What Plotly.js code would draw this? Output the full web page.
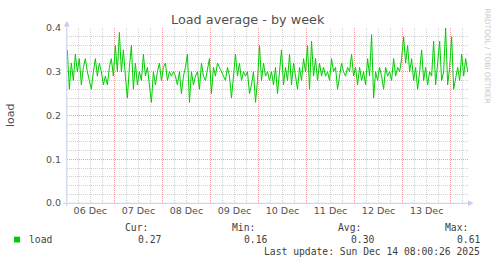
<!DOCTYPE html>
<html><head><meta charset="utf-8">
<script src="https://cdn.plot.ly/plotly-3.0.1.min.js"></script>
<style>html,body{margin:0;padding:0;background:#fff}#chart{width:497px;height:264px}</style>
</head><body><div id="chart"></div>
<script>
// ---- data ----
const chartTitle = 'Load average - by week';
const yAxisTitle = 'load';
const seriesName = 'load';
const watermark = 'RRDTOOL / TOBI OETIKER';
const seriesStartUTC = [2025, 11, 6, 0, 30]; // 2025-12-06 00:30, hourly samples
const loadValues = [
  0.35,0.26,0.32,0.28,0.34,0.30,0.33,0.27,0.31,0.33,
  0.30,0.28,0.26,0.30,0.33,0.29,0.32,0.30,0.27,0.29,
  0.27,0.31,0.33,0.29,0.36,0.30,0.39,0.30,0.35,0.29,
  0.24,0.31,0.36,0.26,0.32,0.27,0.30,0.28,0.34,0.29,
  0.31,0.27,0.23,0.30,0.27,0.30,0.32,0.28,0.31,0.32,
  0.28,0.30,0.29,0.30,0.29,0.27,0.30,0.25,0.29,0.31,
  0.34,0.23,0.30,0.27,0.29,0.30,0.26,0.32,0.29,0.28,
  0.31,0.33,0.25,0.31,0.29,0.32,0.31,0.30,0.29,0.28,
  0.31,0.29,0.24,0.30,0.34,0.29,0.32,0.28,0.30,0.29,
  0.30,0.25,0.27,0.30,0.23,0.28,0.36,0.28,0.32,0.29,
  0.30,0.28,0.30,0.27,0.31,0.25,0.30,0.35,0.27,0.31,
  0.28,0.34,0.27,0.32,0.29,0.26,0.31,0.28,0.33,0.30,
  0.36,0.26,0.37,0.29,0.33,0.28,0.32,0.29,0.31,0.29,
  0.30,0.28,0.33,0.30,0.31,0.26,0.29,0.32,0.30,0.29,
  0.31,0.30,0.34,0.29,0.31,0.27,0.31,0.28,0.30,0.27,
  0.33,0.29,0.385,0.24,0.30,0.28,0.31,0.29,0.26,0.31,
  0.29,0.30,0.28,0.33,0.29,0.31,0.30,0.33,0.38,0.32,
  0.36,0.30,0.33,0.28,0.31,0.26,0.30,0.35,0.28,0.31,
  0.27,0.30,0.29,0.37,0.27,0.32,0.37,0.28,0.30,0.40,
  0.27,0.31,0.38,0.26,0.29,0.31,0.28,0.34,0.29,0.33,
  0.30
];
const xRange = ['2025-12-06 00:20', '2025-12-14 08:40'];
const yTickValues = [0.0, 0.1, 0.2, 0.3, 0.4];
const yTickLabels = ['0.0', '0.1', '0.2', '0.3', '0.4'];
const legendHeaders = ['Cur:', 'Min:', 'Avg:', 'Max:'];
const legendValues = ['0.27', '0.16', '0.30', '0.61'];
const lastUpdate = 'Last update: Sun Dec 14 08:00:26 2025';

// ---- build ----
const t0 = Date.UTC.apply(null, seriesStartUTC);
const times = loadValues.map((_, i) =>
  new Date(t0 + i * 3600000).toISOString().slice(0, 19).replace('T', ' '));

const W = 497, H = 264, M = {l: 67, r: 29, t: 28, b: 61, pad: 0};
const PW = W - M.l - M.r, PH = H - M.t - M.b;
const px = x => (x - M.l) / PW;
const py = y => (H - M.b - y) / PH;

const mono = 'DejaVu Sans Mono, monospace';
const sans = 'DejaVu Sans, sans-serif';
const txt = '#404040';
const axisCol = '#c4ccf2';
const majorGrid = '#e8a0a0';
const minorGrid = '#d2d2d2';

const ann = [];
const addText = (text, x, y, xanchor, opts = {}) => ann.push(Object.assign({
  text, x: px(x), y: py(y), xref: 'paper', yref: 'paper', xanchor, yanchor: 'middle',
  showarrow: false, font: {family: mono, size: 9.7, color: txt}
}, opts));

const headerRight = [150, 256.7, 363.3, 470];
const valueRight = [162.7, 269.3, 375.7, 482.3];
legendHeaders.forEach((h, i) => addText(h, headerRight[i], 227.7, 'right'));
addText(seriesName, 26.7, 239.5, 'left');
legendValues.forEach((v, i) => addText(v, valueRight[i], 239.5, 'right'));
addText(lastUpdate, 482.3, 251, 'right');
addText(yAxisTitle, 10, 115, 'center', {textangle: -90, font: {family: sans, size: 11, color: '#505050'}});
addText(watermark, 487.5, 56, 'center', {textangle: 90, font: {family: sans, size: 7.4, color: '#c8c8c8'}});

const shapes = [
  // legend swatch
  {type: 'rect', xref: 'paper', yref: 'paper', x0: px(14), x1: px(20), y0: py(236.7), y1: py(242.5),
   fillcolor: '#00cc00', line: {width: 0}},
  // axis arrows
  {type: 'path', xref: 'paper', yref: 'paper', fillcolor: axisCol, line: {width: 0},
   path: `M ${px(63.8)} ${py(26.5)} L ${px(69.8)} ${py(26.5)} L ${px(66.8)} ${py(21)} Z`},
  {type: 'line', xref: 'paper', yref: 'paper', x0: px(66.8), x1: px(66.8), y0: py(206), y1: py(26.5),
   line: {color: axisCol, width: 1}},
  {type: 'line', xref: 'paper', yref: 'paper', x0: px(63), x1: px(468), y0: py(203.3), y1: py(203.3),
   line: {color: axisCol, width: 1}},
  {type: 'path', xref: 'paper', yref: 'paper', fillcolor: axisCol, line: {width: 0},
   path: `M ${px(468)} ${py(200.3)} L ${px(468)} ${py(206.3)} L ${px(473.5)} ${py(203.3)} Z`}
];

const data = [{
  type: 'scatter', mode: 'lines', name: seriesName, x: times, y: loadValues,
  line: {color: '#00cc00', width: 1}, hoverinfo: 'x+y'
}];

const layout = {
  width: W, height: H, margin: M, paper_bgcolor: '#ffffff', plot_bgcolor: '#ffffff',
  showlegend: false,
  title: {text: chartTitle, font: {family: sans, size: 12.8, color: '#505050'},
          x: 247.7 / W, xanchor: 'center', y: 1 - 20 / H, yanchor: 'middle', yref: 'container', xref: 'container'},
  xaxis: {
    type: 'date', range: xRange, tick0: '2025-12-06', dtick: 86400000, tickformat: '%d %b',
    ticklabelmode: 'period', showgrid: true, gridcolor: majorGrid, griddash: '1px,1px', gridwidth: 1,
    minor: {dtick: 21600000, tick0: '2025-12-06', showgrid: true, gridcolor: minorGrid, griddash: '1px,1px', gridwidth: 1},
    showline: false, zeroline: false, ticks: '', tickfont: {family: sans, size: 9.5, color: '#505050'},
    fixedrange: true
  },
  yaxis: {
    range: [0, 0.4], tickvals: yTickValues, ticktext: yTickLabels,
    showgrid: true, gridcolor: majorGrid, griddash: '1px,1px', gridwidth: 1,
    minor: {dtick: 0.02, showgrid: true, gridcolor: minorGrid, griddash: '1px,1px', gridwidth: 1},
    showline: false, zeroline: false, ticks: '', ticklabelstandoff: 5,
    tickfont: {family: sans, size: 9.5, color: '#505050'},
    fixedrange: true
  },
  annotations: ann, shapes: shapes
};

Plotly.newPlot('chart', data, layout, {displayModeBar: false, staticPlot: true});
</script></body></html>
